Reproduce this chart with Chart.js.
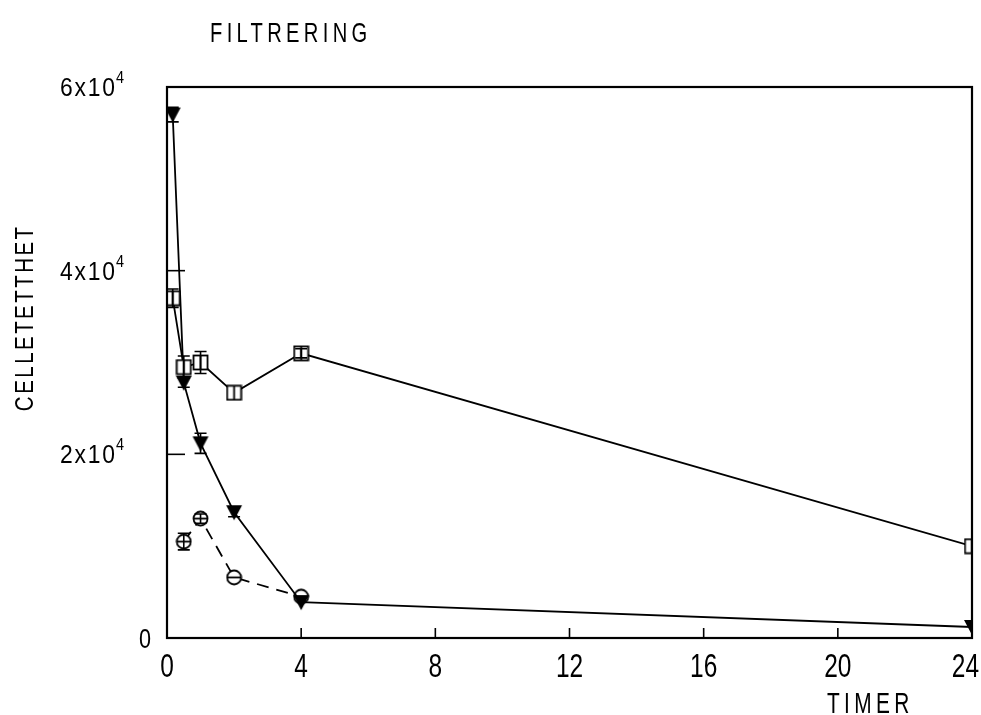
<!DOCTYPE html>
<html><head><meta charset="utf-8">
<script src="https://cdn.jsdelivr.net/npm/chart.js@4/dist/chart.umd.min.js"></script>
<style>html,body{margin:0;padding:0;background:#fff}#wrap{width:981px;height:715px}</style>
</head><body><div id="wrap"><canvas id="c" width="981" height="715"></canvas></div>
<script>
const title = "FILTRERING";
const xTitle = "TIMER";
const yTitle = "CELLETETTHET";
const xTicks = [0, 4, 8, 12, 16, 20, 24];
const yTicks = [0, 20000, 40000, 60000];
const yTickBase = ["0", "2x10", "4x10", "6x10"];
const yTickExp = ["", "4", "4", "4"];

const squareHours = [0.17, 0.5, 1, 2, 4, 24];
const squareValues = [37000, 29500, 30000, 26700, 31000, 10000];
const squareErr = [1000, 1200, 1200, 0, 500, 0];

const triHours = [0.17, 0.5, 1, 2, 4, 24];
const triValues = [57000, 27800, 21200, 13700, 3900, 1200];
const triErr = [800, 500, 1100, 500, 0, 0];

const circHours = [0.5, 1, 2, 4];
const circValues = [10500, 13000, 6600, 4500];
const circErr = [900, 500, 0, 0];

const FONT = '"Liberation Sans", Arimo, sans-serif';

function mk(w, h, draw) {
  const c = document.createElement('canvas'); c.width = w; c.height = h;
  const g = c.getContext('2d'); g.strokeStyle = '#000'; g.fillStyle = '#000'; g.lineWidth = 1.8;
  draw(g); return c;
}
const sqIcon = mk(17, 17, g => { g.fillStyle='#fff'; g.fillRect(1.5,1.5,14,14); g.strokeRect(1.5,1.5,14,14); g.beginPath(); g.moveTo(8.5,1.5); g.lineTo(8.5,15.5); g.stroke(); });
const triIcon = mk(18, 18, g => { g.beginPath(); g.moveTo(1,2); g.lineTo(17,2); g.lineTo(9,17); g.closePath(); g.fill(); });
const cirIcon = mk(17, 17, g => { g.fillStyle='#fff'; g.beginPath(); g.ellipse(8.5,8.5,7,7,0,0,Math.PI*2); g.fill(); g.stroke(); g.beginPath(); g.moveTo(1.5,8.5); g.lineTo(15.5,8.5); g.stroke(); });

const pts = (xs, ys) => xs.map((x, i) => ({x: x, y: ys[i]}));

function txt(ctx, s, x, y, size, sx, align, spacing) {
  ctx.save();
  ctx.font = size + 'px ' + FONT;
  ctx.letterSpacing = (spacing || 0) + 'px';
  let w = ctx.measureText(s).width - (spacing || 0);
  w *= sx;
  const left = align === 'center' ? x - w / 2 : align === 'right' ? x - w : x;
  ctx.translate(left, y); ctx.scale(sx, 1);
  ctx.textAlign = 'left'; ctx.textBaseline = 'alphabetic';
  ctx.fillText(s, 0, 0);
  ctx.restore();
  return w;
}

const deco = {
  id: 'deco',
  afterDatasetsDraw(chart) {
    const ctx = chart.ctx, a = chart.chartArea, xs = chart.scales.x, ys = chart.scales.y;
    ctx.save();
    ctx.strokeStyle = '#000'; ctx.fillStyle = '#000'; ctx.lineWidth = 1.6;
    const errs = [squareErr, triErr, circErr];
    chart.data.datasets.forEach((ds, di) => {
      ds.data.forEach((p, i) => {
        const e = errs[di][i]; if (!e) return;
        const px = xs.getPixelForValue(p.x);
        const y1 = ys.getPixelForValue(p.y + e), y2 = ys.getPixelForValue(p.y - e);
        ctx.beginPath(); ctx.moveTo(px, y1); ctx.lineTo(px, y2);
        ctx.moveTo(px - 6, y1); ctx.lineTo(px + 6, y1);
        ctx.moveTo(px - 6, y2); ctx.lineTo(px + 6, y2); ctx.stroke();
      });
    });
    ctx.lineWidth = 2.2;
    ctx.strokeRect(a.left, a.top, a.right - a.left, a.bottom - a.top);
    ctx.lineWidth = 1.6;
    xTicks.forEach(t => { const px = xs.getPixelForValue(t); ctx.beginPath(); ctx.moveTo(px, a.bottom); ctx.lineTo(px, a.bottom - 10); ctx.stroke(); });
    yTicks.forEach(t => { const py = ys.getPixelForValue(t); ctx.beginPath(); ctx.moveTo(a.left, py); ctx.lineTo(a.left + 18, py); ctx.stroke(); });

    xTicks.forEach(t => {
      const s = String(t);
      ctx.save(); ctx.font = '34px ' + FONT;
      const w = ctx.measureText(s).width * 0.72; ctx.restore();
      let cx = xs.getPixelForValue(t);
      if (cx + w / 2 > 979) cx = 979 - w / 2;
      txt(ctx, s, cx, a.bottom + 39, 34, 0.72, 'center', 0);
    });
    yTicks.forEach((t, i) => {
      const py = ys.getPixelForValue(t);
      if (t === 0) { txt(ctx, yTickBase[i], a.left - 16, py + 10, 27, 0.8, 'right', 0); return; }
      txt(ctx, yTickBase[i], a.left - 52, py + 9, 26, 0.88, 'right', 2);
      txt(ctx, yTickExp[i], a.left - 51, py - 4, 16, 0.9, 'left', 0);
    });
    txt(ctx, title, 210, 42, 28, 0.72, 'left', 6);
    txt(ctx, xTitle, 827, 713, 29, 0.72, 'left', 6);
    ctx.save();
    ctx.translate(33, 319); ctx.rotate(-Math.PI / 2);
    txt(ctx, yTitle, 0, 0, 25, 0.82, 'center', 3);
    ctx.restore();
    ctx.restore();
  }
};

new Chart(document.getElementById('c'), {
  type: 'scatter',
  data: {
    datasets: [
      { label: 'square', data: pts(squareHours, squareValues), showLine: true, borderColor: '#000', borderWidth: 1.8, pointStyle: sqIcon },
      { label: 'triangle', data: pts(triHours, triValues), showLine: true, borderColor: '#000', borderWidth: 1.8, pointStyle: triIcon },
      { label: 'circle', data: pts(circHours, circValues), showLine: true, borderColor: '#000', borderWidth: 1.8, borderDash: [12, 8], pointStyle: cirIcon }
    ]
  },
  options: {
    responsive: false, animation: false,
    layout: { padding: { left: 167, right: 9, top: 87, bottom: 77 } },
    plugins: { legend: { display: false }, tooltip: { enabled: false }, title: { display: false } },
    scales: {
      x: { type: 'linear', min: 0, max: 24, grid: { display: false, drawTicks: false }, border: { display: false }, ticks: { display: false } },
      y: { type: 'linear', min: 0, max: 60000, grid: { display: false, drawTicks: false }, border: { display: false }, ticks: { display: false } }
    }
  },
  plugins: [deco]
});
</script></body></html>
